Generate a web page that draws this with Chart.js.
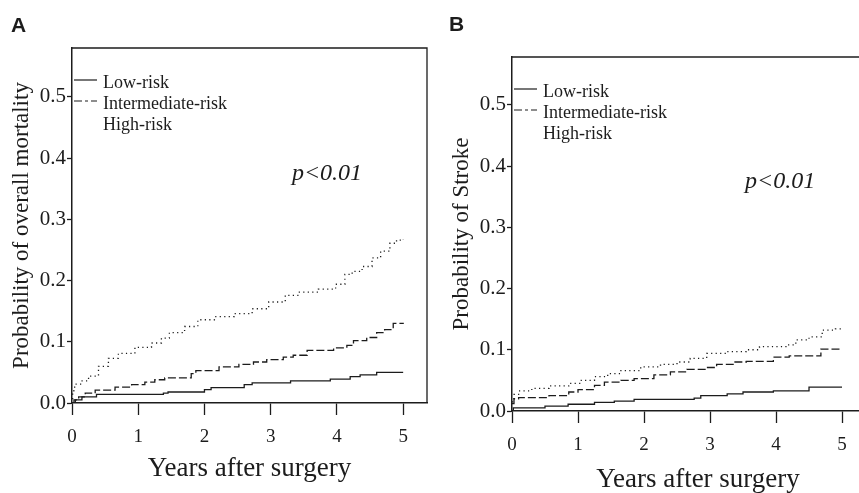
<!DOCTYPE html>
<html>
<head>
<meta charset="utf-8">
<script src="https://cdn.jsdelivr.net/npm/chart.js@4.4.1/dist/chart.umd.min.js"></script>
<style>
  html, body { margin:0; padding:0; background:#fff; }
  body { width:859px; height:493px; overflow:hidden; position:relative; }
  canvas { position:absolute; top:0; }
  #cA { left:0; }
  #cB { left:430px; }
</style>
</head>
<body>
<canvas id="cA" width="430" height="493"></canvas>
<canvas id="cB" width="460" height="493"></canvas>
<script>
// ---------- DATA ----------
const seriesNames = ["Low-risk", "Intermediate-risk", "High-risk"];
const xTicks = [0, 1, 2, 3, 4, 5];
const yTicks = [0.0, 0.1, 0.2, 0.3, 0.4, 0.5];

// Panel A: overall mortality (time in years, cumulative probability)
const mortLowT  = [0, 0.05, 0.15, 0.37, 1.38, 1.45, 2.0, 2.1, 2.6, 2.72, 3.3, 3.9, 4.2, 4.35, 4.6, 5.0];
const mortLowP  = [0, 0.005, 0.01, 0.014, 0.016, 0.018, 0.022, 0.025, 0.03, 0.033, 0.036, 0.039, 0.043, 0.046, 0.05, 0.05];
const mortIntT  = [0, 0.03, 0.1, 0.2, 0.35, 0.65, 0.9, 1.1, 1.25, 1.4, 1.8, 1.87, 2.22, 2.52, 2.74, 2.94, 3.19, 3.34, 3.55, 3.95, 4.15, 4.25, 4.45, 4.6, 4.72, 4.85, 5.0];
const mortIntP  = [0, 0.005, 0.01, 0.016, 0.021, 0.026, 0.03, 0.034, 0.038, 0.041, 0.048, 0.053, 0.059, 0.063, 0.067, 0.071, 0.075, 0.078, 0.086, 0.09, 0.094, 0.102, 0.107, 0.115, 0.12, 0.13, 0.131];
const mortHighT = [0, 0.01, 0.04, 0.14, 0.25, 0.4, 0.55, 0.7, 0.95, 1.2, 1.35, 1.47, 1.7, 1.9, 2.15, 2.45, 2.72, 2.97, 3.22, 3.42, 3.72, 3.98, 4.12, 4.23, 4.38, 4.53, 4.66, 4.8, 4.9, 5.0];
const mortHighP = [0, 0.02, 0.031, 0.036, 0.044, 0.06, 0.073, 0.081, 0.091, 0.098, 0.106, 0.115, 0.125, 0.136, 0.141, 0.146, 0.154, 0.165, 0.176, 0.181, 0.186, 0.194, 0.21, 0.215, 0.223, 0.237, 0.248, 0.261, 0.266, 0.268];

// Panel B: stroke
const strkLowT  = [0, 0.02, 0.5, 0.85, 1.25, 1.55, 1.85, 2.76, 2.86, 3.26, 3.5, 3.96, 4.5, 5.0];
const strkLowP  = [0, 0.005, 0.008, 0.011, 0.014, 0.016, 0.019, 0.021, 0.025, 0.028, 0.031, 0.033, 0.039, 0.039];
const strkIntT  = [0, 0.03, 0.1, 0.56, 0.86, 1.0, 1.25, 1.4, 1.65, 1.85, 2.15, 2.4, 2.65, 2.95, 3.1, 3.35, 3.55, 3.96, 4.2, 4.68, 5.0];
const strkIntP  = [0.012, 0.02, 0.022, 0.025, 0.031, 0.035, 0.042, 0.047, 0.05, 0.053, 0.059, 0.064, 0.068, 0.071, 0.076, 0.08, 0.081, 0.088, 0.09, 0.101, 0.101];
const strkHighT = [0, 0.03, 0.1, 0.3, 0.56, 0.86, 1.05, 1.25, 1.45, 1.65, 1.95, 2.25, 2.5, 2.7, 2.95, 3.26, 3.55, 3.75, 4.15, 4.3, 4.5, 4.7, 4.9, 5.0];
const strkHighP = [0.015, 0.027, 0.033, 0.037, 0.041, 0.045, 0.05, 0.056, 0.061, 0.066, 0.072, 0.076, 0.08, 0.086, 0.094, 0.097, 0.1, 0.105, 0.108, 0.116, 0.121, 0.132, 0.134, 0.135];

// ---------- helpers ----------
const INK = '#1c1c1c';
const SERIF = '"Liberation Serif", "Times New Roman", serif';
const zip = (t, p) => t.map((v, i) => ({ x: v, y: p[i] }));
const styles = [
  { borderDash: [], borderWidth: 1.3 },
  { borderDash: [8, 3], borderWidth: 1.3 },
  { borderDash: [1.2, 3.3], borderWidth: 1.3 }
];

function makeDatasets(list) {
  return list.map((d, i) => ({
    label: seriesNames[i],
    data: zip(d[0], d[1]),
    stepped: 'before',
    borderColor: INK,
    borderWidth: styles[i].borderWidth,
    borderDash: styles[i].borderDash,
    pointRadius: 0,
    fill: false,
    tension: 0
  }));
}

const overlay = {
  id: 'overlay',
  afterDraw(chart, args, opts) {
    const { ctx, chartArea: a, scales } = chart;
    ctx.save();
    // frame
    ctx.strokeStyle = INK;
    ctx.lineWidth = 1.3;
    ctx.beginPath();
    ctx.moveTo(a.left, a.top); ctx.lineTo(a.right, a.top);
    if (opts.rightBorder) { ctx.lineTo(a.right, a.bottom); }
    ctx.stroke();
    // legend
    ctx.font = '18px ' + SERIF;
    ctx.fillStyle = INK;
    ctx.textBaseline = 'middle';
    ctx.textAlign = 'left';
    chart.data.datasets.forEach((ds, i) => {
      const y = a.top + 35 + i * 21;
      if (i < 2) {
        ctx.setLineDash(i === 1 ? [8, 3, 3, 3] : []);
        ctx.lineWidth = 1.2;
        ctx.beginPath();
        ctx.moveTo(a.left + 2, y - 3);
        ctx.lineTo(a.left + 25, y - 3);
        ctx.stroke();
        ctx.setLineDash([]);
      }
      ctx.fillText(ds.label, a.left + 31, y);
    });
    // p value
    ctx.font = 'italic 24px ' + SERIF;
    ctx.textBaseline = 'alphabetic';
    ctx.fillText(opts.pText, scales.x.getPixelForValue(opts.pX), scales.y.getPixelForValue(opts.pY));
    // panel letter
    ctx.font = 'bold 21px "Liberation Sans", Arial, sans-serif';
    ctx.fillText(opts.letter, opts.letterX, opts.letterY);
    ctx.restore();
  }
};

function makeChart(id, cfg) {
  return new Chart(document.getElementById(id), {
    type: 'line',
    data: { datasets: makeDatasets(cfg.series) },
    options: {
      responsive: false,
      animation: false,
      devicePixelRatio: 1,
      layout: { padding: cfg.padding },
      plugins: {
        legend: { display: false },
        tooltip: { enabled: false },
        overlay: cfg.overlay
      },
      scales: {
        x: {
          type: 'linear',
          min: 0,
          max: cfg.xMax,
          afterFit: s => { s.height = cfg.xAxisH; },
          afterBuildTicks: s => { s.ticks = xTicks.map(v => ({ value: v })); },
          ticks: {
            color: INK,
            padding: cfg.xTickPad,
            font: { family: SERIF, size: 19 },
            maxRotation: 0,
            callback: v => String(v)
          },
          grid: { drawOnChartArea: false, drawTicks: true, tickLength: 12, tickColor: INK, tickWidth: 1.3 },
          border: { display: true, color: INK, width: 1.5 },
          title: {
            display: true,
            text: 'Years after surgery',
            color: INK,
            font: { family: SERIF, size: 27, lineHeight: 1 },
            padding: { top: 0, bottom: cfg.xTitlePad }
          }
        },
        y: {
          type: 'linear',
          min: 0,
          max: cfg.yMax,
          afterFit: s => { s.width = cfg.yAxisW; },
          afterBuildTicks: s => { s.ticks = yTicks.map(v => ({ value: v })); },
          ticks: {
            color: INK,
            padding: 1,
            font: { family: SERIF, size: 21 },
            callback: v => Number(v).toFixed(1)
          },
          grid: { drawOnChartArea: false, drawTicks: true, tickLength: 5, tickColor: INK, tickWidth: 1.3 },
          border: { display: true, color: INK, width: 1.5 },
          title: {
            display: true,
            text: cfg.yTitle,
            color: INK,
            font: { family: SERIF, size: 23, lineHeight: 1 },
            padding: { top: cfg.yTitlePad, bottom: 0 }
          }
        }
      }
    },
    plugins: [overlay]
  });
}

makeChart('cA', {
  series: [[mortLowT, mortLowP], [mortIntT, mortIntP], [mortHighT, mortHighP]],
  padding: { top: 48, right: 3, left: 0, bottom: 0 },
  xMax: 5.36, yMax: 0.58,
  xAxisH: 90, yAxisW: 72,
  xTickPad: 11, xTitlePad: 11, yTitlePad: 10,
  yTitle: 'Probability of overall mortality',
  overlay: { rightBorder: true, pText: 'p<0.01', pX: 3.32, pY: 0.364, letter: 'A', letterX: 11, letterY: 32 }
});

makeChart('cB', {
  series: [[strkLowT, strkLowP], [strkIntT, strkIntP], [strkHighT, strkHighP]],
  padding: { top: 57, right: 6, left: 0, bottom: 0 },
  xMax: 5.636, yMax: 0.578,
  xAxisH: 82, yAxisW: 82,
  xTickPad: 11, xTitlePad: 0, yTitlePad: 20,
  yTitle: 'Probability of Stroke',
  overlay: { rightBorder: false, pText: 'p<0.01', pX: 3.53, pY: 0.364, letter: 'B', letterX: 19, letterY: 31 }
});
</script>
</body>
</html>
